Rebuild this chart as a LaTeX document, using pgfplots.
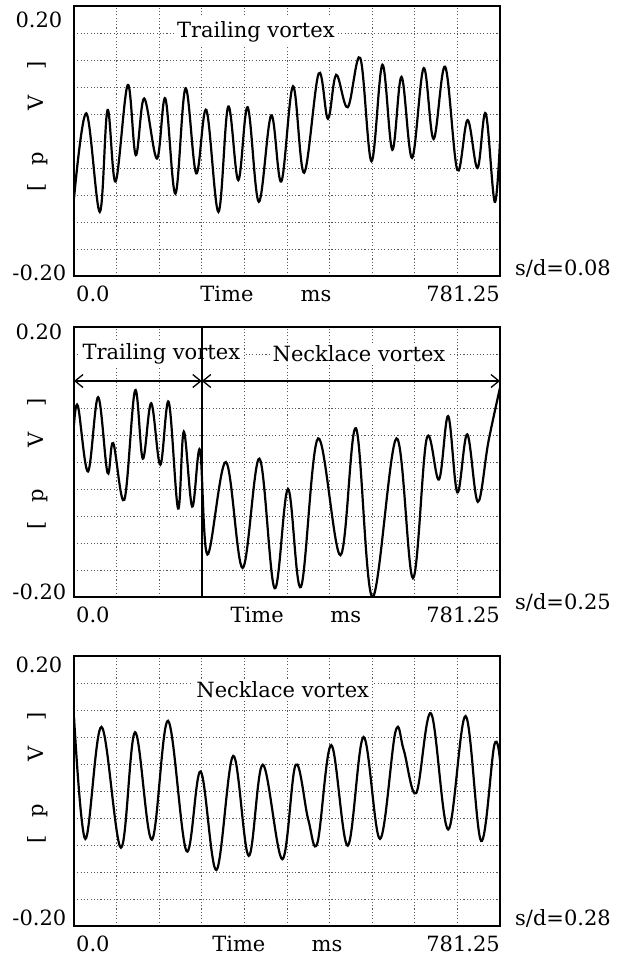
\documentclass[border=0pt]{standalone}
\usepackage{fontspec}
\setmainfont{DejaVu Serif}
\usepackage{pgfplots}
\pgfplotsset{compat=1.18}
\usetikzlibrary{arrows.meta}

\pgfplotsset{
  panel/.style={
    scale only axis, width=426pt, height=270pt,
    xmin=0, xmax=781.25, ymin=-0.2, ymax=0.2,
    clip mode=individual,
    xtick={0,781.25}, xticklabels={},
    ytick={-0.2,0.2}, yticklabels={},
    minor xtick={78.125,156.25,234.375,312.5,390.625,468.75,546.875,625,703.125},
    minor ytick={-0.16,-0.12,-0.08,-0.04,0,0.04,0.08,0.12,0.16},
    major tick length=0pt, minor tick length=0pt,
    grid=minor,
    minor grid style={black!65, line width=0.9pt, dash pattern=on 1.1pt off 2.2pt},
    axis line style={line width=1.6pt},
  },
  sig/.style={black, line width=2.2pt, smooth, tension=0.6, no markers},
}
\tikzset{lab/.style={inner sep=0pt},
  ttl/.style={fill=white, inner sep=3pt}}

\begin{document}
\fontsize{21}{25}\selectfont
\begin{tikzpicture}[x=1pt,y=1pt]
\path[use as bounding box] (0,0) rectangle (625,-956);

% s/d = 0.08
\begin{axis}[panel, at={(74pt,-276pt)}, anchor=south west]
\addplot[sig] coordinates {
(0,-0.085) (22.6,0.041) (47.3,-0.105) (61.5,0.046) (76.3,-0.060) (98.5,0.083)
(113.3,-0.021) (128.7,0.063) (152.1,-0.026) (167.5,0.063) (186,-0.078) (204.5,0.078)
(224.2,-0.048) (242.7,0.046) (264.9,-0.105) (282.8,0.051) (301.3,-0.058) (318.5,0.050)
(338.9,-0.090) (361.7,0.038) (380.2,-0.060) (401.7,0.081) (422,-0.047) (448.7,0.100)
(465.7,0.033) (480.8,0.098) (502,0.050) (525,0.123) (545.6,-0.030) (565.6,0.113)
(583.8,-0.013) (600.7,0.095) (620,-0.025) (641.3,0.108) (659.5,0.003) (680.7,0.110)
(703,-0.043) (721.8,0.031) (740,-0.040) (755,0.041) (771.5,-0.090) (781.25,0.0)};
\node[ttl] at (rel axis cs:0.427,0.905) {Trailing vortex};
\node[lab,anchor=east] at ([xshift=-11.5pt,yshift=-14pt]rel axis cs:0,1) {0.20};
\node[lab,anchor=east] at ([xshift=-7.5pt,yshift=3pt]rel axis cs:0,0) {-0.20};
\node[lab,rotate=90] at ([xshift=-36pt]rel axis cs:0,0.554) {[\hspace{18pt}p\hspace{42pt}V\hspace{26pt}]};
\node[lab,anchor=base west] at ([xshift=2pt,yshift=-25pt]rel axis cs:0,0) {0.0};
\node[lab,anchor=base] at ([yshift=-25pt]rel axis cs:0.359,0) {Time};
\node[lab,anchor=base] at ([yshift=-25pt]rel axis cs:0.568,0) {ms};
\node[lab,anchor=base east] at ([yshift=-25pt]rel axis cs:1,0) {781.25};
\node[lab,anchor=west] at ([xshift=15pt,yshift=8pt]rel axis cs:1,0) {s/d=0.08};
\end{axis}

% s/d = 0.25
\begin{axis}[panel, at={(74pt,-597pt)}, anchor=south west]
\addplot[sig] coordinates {
(0,0.055) (7.2,0.083) (25.7,-0.014) (44.2,0.096) (61.5,-0.016) (71.9,0.028)
(92.3,-0.056) (112,0.106) (126.2,0.005) (141.6,0.087) (158.3,-0.004) (173.7,0.089)
(190.9,-0.069) (201.4,0.045) (216.8,-0.066) (231,0.018) (244.7,-0.137) (278.6,0.000)
(309.3,-0.157) (340.1,0.005) (367.9,-0.187) (392.5,-0.040) (416.2,-0.185) (447.6,0.035)
(488.7,-0.138) (517.1,0.050) (547.3,-0.200) (591.4,0.035) (621.6,-0.172) (646.9,0.035)
(669.3,-0.026) (686.2,0.068) (703.1,-0.045) (721.2,0.041) (740.6,-0.059) (760,0.030)
(781.25,0.110)};
\node[ttl] at (rel axis cs:0.205,0.9) {Trailing vortex};
\node[ttl] at (rel axis cs:0.669,0.9) {Necklace vortex};
\addplot[black, line width=1.6pt] coordinates {(234.375,-0.2) (234.375,0.2)};
\addplot[black, line width=1.3pt, {Straight Barb[length=8pt,width=13pt]}-{Straight Barb[length=8pt,width=13pt]}]
  coordinates {(0,0.12) (234.375,0.12)};
\addplot[black, line width=1.3pt, {Straight Barb[length=8pt,width=13pt]}-{Straight Barb[length=8pt,width=13pt]}]
  coordinates {(234.375,0.12) (781.25,0.12)};
\node[lab,anchor=east] at ([xshift=-11.5pt,yshift=-5pt]rel axis cs:0,1) {0.20};
\node[lab,anchor=east] at ([xshift=-7.5pt,yshift=5pt]rel axis cs:0,0) {-0.20};
\node[lab,rotate=90] at ([xshift=-36pt]rel axis cs:0,0.494) {[\hspace{18pt}p\hspace{42pt}V\hspace{26pt}]};
\node[lab,anchor=base west] at ([xshift=2pt,yshift=-25pt]rel axis cs:0,0) {0.0};
\node[lab,anchor=base] at ([yshift=-25pt]rel axis cs:0.43,0) {Time};
\node[lab,anchor=base] at ([yshift=-25pt]rel axis cs:0.638,0) {ms};
\node[lab,anchor=base east] at ([yshift=-25pt]rel axis cs:1,0) {781.25};
\node[lab,anchor=west] at ([xshift=15pt,yshift=-5pt]rel axis cs:1,0) {s/d=0.25};
\end{axis}

% s/d = 0.28
\begin{axis}[panel, at={(74pt,-926pt)}, anchor=south west]
\addplot[sig] coordinates {
(0,0.110) (20.8,-0.071) (50.4,0.095) (86.1,-0.084) (112,0.087) (142.8,-0.072)
(172.4,0.104) (206.3,-0.089) (232.2,0.029) (261.2,-0.117) (292,0.052) (320.4,-0.096)
(346.3,0.039) (382,-0.101) (406.6,0.039) (429.5,-0.042) (446.4,-0.077) (471.8,0.068)
(502,-0.081) (531,0.080) (561.2,-0.071) (589.6,0.088) (604.6,0.061) (627.6,-0.003)
(654.8,0.115) (686.2,-0.057) (718.2,0.111) (746.6,-0.074) (770.8,0.068) (781.25,0.046)};
\node[ttl] at (rel axis cs:0.49,0.874) {Necklace vortex};
\node[lab,anchor=east] at ([xshift=-11.5pt,yshift=-9pt]rel axis cs:0,1) {0.20};
\node[lab,anchor=east] at ([xshift=-7.5pt,yshift=8pt]rel axis cs:0,0) {-0.20};
\node[lab,rotate=90] at ([xshift=-36pt]rel axis cs:0,0.548) {[\hspace{18pt}p\hspace{42pt}V\hspace{26pt}]};
\node[lab,anchor=base west] at ([xshift=2pt,yshift=-25pt]rel axis cs:0,0) {0.0};
\node[lab,anchor=base] at ([yshift=-25pt]rel axis cs:0.387,0) {Time};
\node[lab,anchor=base] at ([yshift=-25pt]rel axis cs:0.594,0) {ms};
\node[lab,anchor=base east] at ([yshift=-25pt]rel axis cs:1,0) {781.25};
\node[lab,anchor=west] at ([xshift=15pt,yshift=8pt]rel axis cs:1,0) {s/d=0.28};
\end{axis}
\end{tikzpicture}
\end{document}
